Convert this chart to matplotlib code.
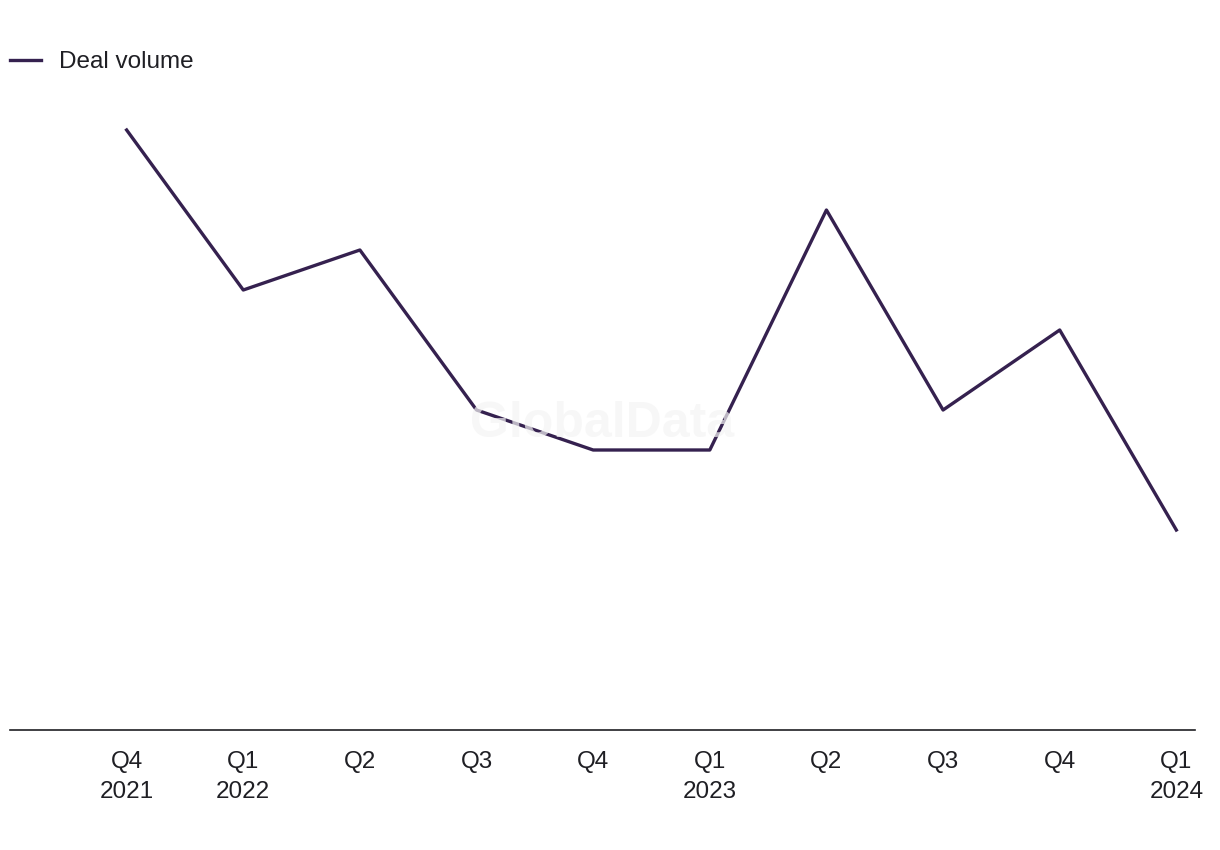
import matplotlib.pyplot as plt

quarters = ['Q4\n2021', 'Q1\n2022', 'Q2', 'Q3', 'Q4', 'Q1\n2023', 'Q2', 'Q3', 'Q4', 'Q1\n2024']
deal_volume = [15, 11, 12, 8, 7, 7, 13, 8, 10, 5]

plt.rcParams['font.family'] = ['Liberation Sans', 'DejaVu Sans']

fig = plt.figure(figsize=(12.2, 8.5), dpi=100)
ax = fig.add_axes([10 / 1220, 120 / 850, 1185 / 1220, 640 / 850])

x = range(len(quarters))
ax.plot(x, deal_volume, color='#35214f', linewidth=2.4, label='Deal volume', zorder=2)

ax.set_xlim(-1, 9.16)
ax.set_ylim(0, 16)
ax.set_xticks(list(x))
ax.set_xticklabels(quarters, fontsize=17.5, color='#1f1f24', linespacing=1.5)
ax.tick_params(axis='x', length=0, pad=15)
ax.set_yticks([])
for side in ['top', 'right', 'left']:
    ax.spines[side].set_visible(False)
ax.spines['bottom'].set_color('#1f1f24')
ax.spines['bottom'].set_linewidth(1.2)

# faint watermark
ax.text(0.5, 0.478, 'GlobalData', transform=ax.transAxes, ha='center', va='center',
        fontsize=36, fontweight='bold', color='#f4f4f4', alpha=0.7, zorder=3)

fig.legend(loc='center left', bbox_to_anchor=(10 / 1220, 1 - 62 / 850), frameon=False,
           fontsize=17.5, handlelength=1.28, handletextpad=0.75, borderpad=0, borderaxespad=0,
           labelcolor='#1f1f24')

plt.savefig('out.png', dpi=100)
